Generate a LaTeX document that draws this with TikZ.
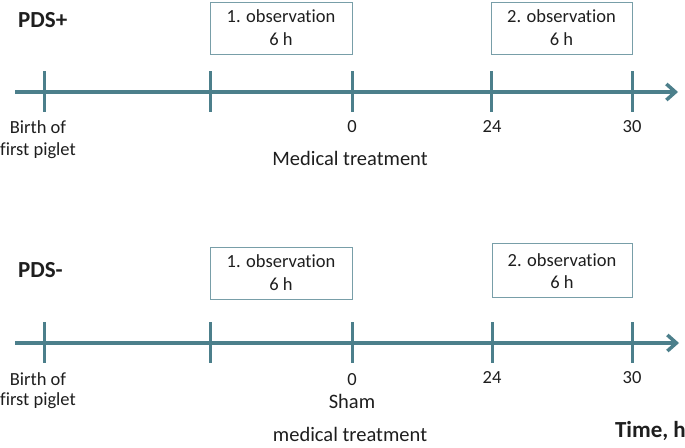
\documentclass[tikz,border=0pt]{standalone}
\usepackage{fontspec}
\setmainfont[Ligatures=NoCommon]{Carlito}
\usetikzlibrary{arrows.meta}
\definecolor{axisteal}{RGB}{76,127,139}
\definecolor{boxline}{RGB}{120,158,168}
\definecolor{txt}{RGB}{30,30,30}
\begin{document}
\begin{tikzpicture}[x=1pt,y=-1pt,
  axisline/.style={draw=axisteal,line width=3.5pt,-{Straight Barb[length=9pt,width=16pt]}},
  tickline/.style={draw=axisteal,line width=3pt},
  obsbox/.style={draw=boxline,line width=0.9pt},
  lbl/.style={text=txt,font=\fontsize{18.5}{22}\selectfont,inner sep=0pt,anchor=base},
  biglbl/.style={text=txt,font=\fontsize{20.5}{24}\selectfont,inner sep=0pt,anchor=base},
  title/.style={text=txt,font=\fontsize{23}{27}\selectfont\bfseries,inner sep=0pt,anchor=base west}]
\useasboundingbox (0,0) rectangle (685,447);
% ---------- PDS+ ----------
\node[title] (t1) at (18,27.7) {PDS+};
\draw[obsbox] (210,2) rectangle (352,54);
\node[lbl] (o1a) at (281,23) {1. observation};
\node[lbl] (o1b) at (281,45) {6 h};
\draw[obsbox] (491,2) rectangle (632,54);
\node[lbl] (o2a) at (561.5,23) {2. observation};
\node[lbl] (o2b) at (561.5,45) {6 h};
\coordinate (a1s) at (15,92);
\coordinate (a1e) at (678,92);
\draw[axisline] (a1s) -- (a1e);
\foreach \x/\n in {44/b,210/c,352/d,491/e,632/f}{
  \coordinate (top\n) at (\x,71);
  \coordinate (bot\n) at (\x,112);
  \draw[tickline] (top\n) -- (bot\n);
}
\node[lbl] (bir1) at (38,133) {Birth of};
\node[lbl] (fp1) at (38,155) {first piglet};
\node[lbl] (z1) at (352,132.5) {0};
\node[lbl] (tf1) at (492,132.5) {24};
\node[lbl] (th1) at (632,132.5) {30};
\node[biglbl] (mt) at (350,165) {Medical treatment};
% ---------- PDS- ----------
\node[title] (t2) at (18,277.7) {PDS-};
\draw[obsbox] (210,247) rectangle (352,299);
\node[lbl] (p1a) at (281,267.7) {1. observation};
\node[lbl] (p1b) at (281,290.5) {6 h};
\draw[obsbox] (492,243) rectangle (632,297);
\node[lbl] (p2a) at (562,266) {2. observation};
\node[lbl] (p2b) at (562,288) {6 h};
\coordinate (a2s) at (15,343);
\coordinate (a2e) at (679,343);
\draw[axisline] (a2s) -- (a2e);
\foreach \x/\n in {44/b,210/c,352/d,492/e,632/f}{
  \coordinate (ltop\n) at (\x,322);
  \coordinate (lbot\n) at (\x,363);
  \draw[tickline] (ltop\n) -- (lbot\n);
}
\node[lbl] (bir2) at (38,385.7) {Birth of};
\node[lbl] (fp2) at (38,405.7) {first piglet};
\node[lbl] (z2) at (352,385) {0};
\node[lbl] (tf2) at (492,383) {24};
\node[lbl] (th2) at (632,383) {30};
\node[biglbl] (sh) at (352,408.3) {Sham};
\node[biglbl] (smt) at (350,441.7) {medical treatment};
\node[text=txt,font=\fontsize{23}{27}\selectfont\bfseries,inner sep=0pt,anchor=base east] (time) at (686,437.7) {Time, h};
\end{tikzpicture}
\end{document}
